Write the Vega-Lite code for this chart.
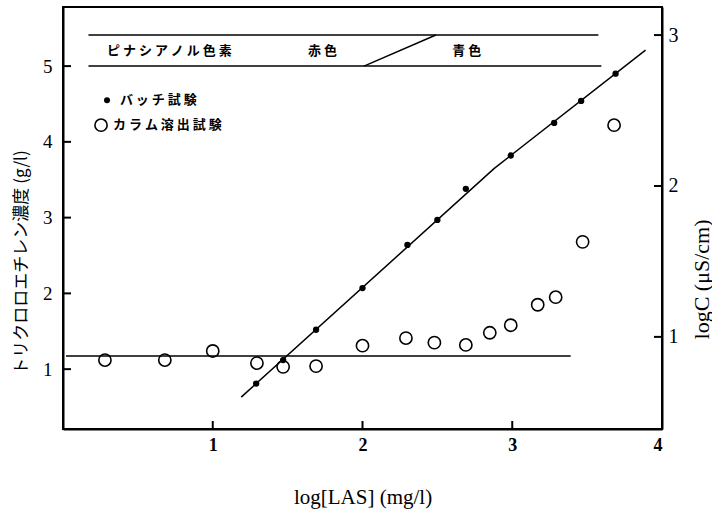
{
  "$schema": "https://vega.github.io/schema/vega-lite/v6.json",
  "width": 599,
  "height": 422,
  "autosize": "none",
  "padding": {"left": 63, "top": 7, "right": 50, "bottom": 88},
  "background": "white",
  "config": {
    "view": {"stroke": "black", "strokeWidth": 2},
    "axis": {
      "grid": false,
      "ticks": false,
      "domainColor": "black",
      "domainWidth": 2,
      "labelColor": "black",
      "titleColor": "black",
      "labelFont": "Liberation Serif",
      "labelFontSize": 18,
      "titleFont": "Liberation Serif",
      "titleFontWeight": "normal"
    }
  },
  "datasets": {
    "batch": [
      {"las": 1.29, "tce": 0.81},
      {"las": 1.47, "tce": 1.12},
      {"las": 1.69, "tce": 1.52},
      {"las": 2.0, "tce": 2.07},
      {"las": 2.3, "tce": 2.64},
      {"las": 2.5, "tce": 2.97},
      {"las": 2.69, "tce": 3.38},
      {"las": 2.99, "tce": 3.82},
      {"las": 3.28, "tce": 4.25},
      {"las": 3.46, "tce": 4.54},
      {"las": 3.69, "tce": 4.9}
    ],
    "column": [
      {"las": 0.28, "tce": 1.12},
      {"las": 0.68, "tce": 1.12},
      {"las": 1.0, "tce": 1.24},
      {"las": 1.295, "tce": 1.08},
      {"las": 1.47, "tce": 1.03},
      {"las": 1.69, "tce": 1.04},
      {"las": 2.0, "tce": 1.31},
      {"las": 2.29, "tce": 1.41},
      {"las": 2.48, "tce": 1.35},
      {"las": 2.69, "tce": 1.32},
      {"las": 2.85, "tce": 1.48},
      {"las": 2.99, "tce": 1.58},
      {"las": 3.17, "tce": 1.85},
      {"las": 3.29, "tce": 1.95},
      {"las": 3.47, "tce": 2.68},
      {"las": 3.68, "tce": 4.22}
    ],
    "lines": [
      {"id": "fit", "k": 0, "las": 1.19, "tce": 0.63},
      {"id": "fit", "k": 1, "las": 2.88, "tce": 3.65},
      {"id": "fit", "k": 2, "las": 3.89, "tce": 5.21},
      {"id": "base", "k": 0, "las": 0.02, "tce": 1.175},
      {"id": "base", "k": 1, "las": 3.39, "tce": 1.175},
      {"id": "bandTop", "k": 0, "las": 0.17, "tce": 5.41},
      {"id": "bandTop", "k": 1, "las": 3.575, "tce": 5.41},
      {"id": "bandBottom", "k": 0, "las": 0.17, "tce": 5.0},
      {"id": "bandBottom", "k": 1, "las": 3.595, "tce": 5.0},
      {"id": "shift", "k": 0, "las": 2.01, "tce": 5.0},
      {"id": "shift", "k": 1, "las": 2.49, "tce": 5.41}
    ],
    "labels": [
      {"las": 0.294, "tce": 5.2, "label": "ピ ナ シ ア ノ ル 色 素"},
      {"las": 1.636, "tce": 5.2, "label": "赤 色"},
      {"las": 2.6, "tce": 5.2, "label": "青 色"},
      {"las": 0.38, "tce": 4.55, "label": "バ ッ チ 試 験"},
      {"las": 0.334, "tce": 4.22, "label": "カ ラ ム 溶 出 試 験"}
    ],
    "keyBatch": [{"las": 0.294, "tce": 4.55}],
    "keyColumn": [{"las": 0.254, "tce": 4.22}],
    "xTicks": [{"v": 1}, {"v": 2}, {"v": 3}, {"v": 4}],
    "yTicks": [{"v": 1}, {"v": 2}, {"v": 3}, {"v": 4}, {"v": 5}],
    "rTicks": [{"v": 1}, {"v": 2}, {"v": 3}]
  },
  "layer": [
    {
      "layer": [
        {
          "data": {"name": "lines"},
          "mark": {"type": "line", "color": "black", "strokeWidth": 1.5},
          "encoding": {
            "x": {
              "field": "las", "type": "quantitative",
              "scale": {"domain": [0, 4], "nice": false, "zero": false},
              "axis": {
                "orient": "bottom",
                "values": [1, 2, 3, 4],
                "format": "d",
                "labelFont": "Liberation Serif",
                "labelFontSize": 18,
                "labelFontWeight": "bold",
                "labelPadding": 7,
                "title": "log[LAS]  (mg/l)",
                "titleFontSize": 21,
                "titleX": 299.5,
                "titleY": 68,
                "titleAlign": "center",
                "titleBaseline": "middle"
              }
            },
            "y": {
              "field": "tce", "type": "quantitative",
              "scale": {"domain": [0.21, 5.78], "nice": false, "zero": false},
              "axis": {
                "orient": "left",
                "values": [1, 2, 3, 4, 5],
                "format": "d",
                "labelFont": "Liberation Serif",
                "labelFontSize": 19,
                "labelPadding": 11,
                "title": "トリクロロエチレン濃度 (g/l)",
                "titleFont": "Noto Sans CJK JP",
                "titleFontSize": 17,
                "titleAngle": -90,
                "titleX": -42,
                "titleY": 255,
                "titleAlign": "center",
                "titleBaseline": "middle"
              }
            },
            "detail": {"field": "id"},
            "order": {"field": "k"}
          }
        },
        {
          "data": {"name": "xTicks"},
          "mark": {"type": "rule", "color": "black", "strokeWidth": 2},
          "encoding": {
            "x": {"field": "v", "type": "quantitative"},
            "y": {"datum": 0.21, "type": "quantitative"},
            "y2": {"datum": 0.3156}
          }
        },
        {
          "data": {"name": "yTicks"},
          "mark": {"type": "rule", "color": "black", "strokeWidth": 2},
          "encoding": {
            "y": {"field": "v", "type": "quantitative"},
            "x": {"datum": 0, "type": "quantitative"},
            "x2": {"datum": 0.0534}
          }
        },
        {
          "data": {"name": "column"},
          "mark": {"type": "point", "shape": "circle", "filled": false, "color": "black", "strokeWidth": 1.6, "size": 150, "opacity": 1},
          "encoding": {
            "x": {"field": "las", "type": "quantitative"},
            "y": {"field": "tce", "type": "quantitative"}
          }
        },
        {
          "data": {"name": "batch"},
          "mark": {"type": "point", "shape": "circle", "filled": true, "color": "black", "size": 40, "opacity": 1},
          "encoding": {
            "x": {"field": "las", "type": "quantitative"},
            "y": {"field": "tce", "type": "quantitative"}
          }
        },
        {
          "data": {"name": "keyColumn"},
          "mark": {"type": "point", "shape": "circle", "filled": false, "color": "black", "strokeWidth": 1.6, "size": 150, "opacity": 1},
          "encoding": {
            "x": {"field": "las", "type": "quantitative"},
            "y": {"field": "tce", "type": "quantitative"}
          }
        },
        {
          "data": {"name": "keyBatch"},
          "mark": {"type": "point", "shape": "circle", "filled": true, "color": "black", "size": 36, "opacity": 1},
          "encoding": {
            "x": {"field": "las", "type": "quantitative"},
            "y": {"field": "tce", "type": "quantitative"}
          }
        },
        {
          "data": {"name": "labels"},
          "mark": {"type": "text", "align": "left", "baseline": "middle", "font": "Noto Sans CJK JP", "fontWeight": "bold", "fontSize": 13, "color": "black"},
          "encoding": {
            "x": {"field": "las", "type": "quantitative"},
            "y": {"field": "tce", "type": "quantitative"},
            "text": {"field": "label"}
          }
        }
      ]
    },
    {
      "data": {"name": "rTicks"},
      "mark": {"type": "rule", "color": "black", "strokeWidth": 2},
      "encoding": {
        "x": {"datum": 3.9466, "type": "quantitative"},
        "x2": {"datum": 4},
        "y": {
          "field": "v", "type": "quantitative",
          "scale": {"domain": [0.3896, 3.186], "nice": false, "zero": false},
          "axis": {
            "orient": "right",
            "values": [1, 2, 3],
            "format": "d",
            "labelFont": "Liberation Serif",
            "labelFontSize": 20,
            "labelPadding": 6,
            "title": "logC   (μS/cm)",
            "titleFontSize": 22,
            "titleAngle": 270,
            "titleX": 39,
            "titleY": 272,
            "titleAlign": "center",
            "titleBaseline": "middle"
          }
        }
      }
    }
  ],
  "resolve": {"scale": {"y": "independent"}}
}
